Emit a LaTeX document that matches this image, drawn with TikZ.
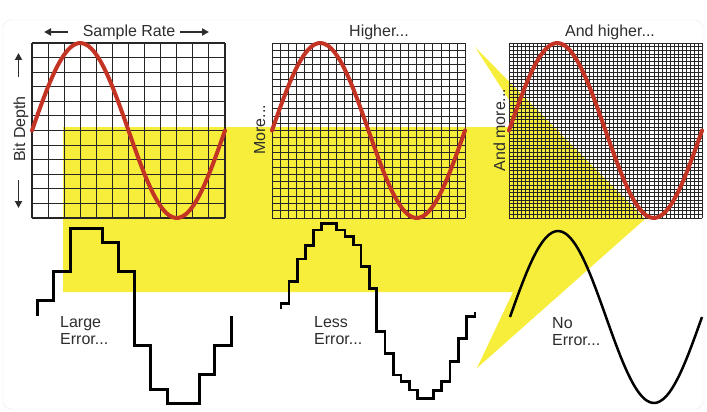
\documentclass[tikz,border=0pt]{standalone}
\usepackage{fontspec}
\setmainfont{Liberation Sans}
\usetikzlibrary{arrows.meta}
\definecolor{beam}{RGB}{246,238,58}
\definecolor{wave}{RGB}{196,52,36}
\definecolor{labelgray}{RGB}{45,45,45}
\begin{document}
\begin{tikzpicture}[x=1pt,y=-1pt,
	every node/.style={text=labelgray,font=\fontsize{16}{17}\selectfont,inner sep=0},
	gridline/.style={line width=#1,black!85},
	redwave/.style={wave,line width=4pt,line cap=round},
	stairs/.style={black,line width=#1,line join=miter},
	title/.style={anchor=base},
	side/.style={anchor=base,rotate=90},
	errtext/.style={align=left,anchor=north west},
	lblarrow/.style={labelgray,line width=1.8pt,-{Triangle[length=7pt,width=7pt]}}]
\fill[white] (0,0) rectangle (707,412);
\draw[black!8,rounded corners=8pt] (3,20) rectangle (703,409);
% yellow beam
\fill[beam] (63,127) -- (509,127) -- (509,100) -- (475,47) -- (645,219)
	-- (477,368) -- (513,292) -- (63,292) -- cycle;
% the three grids
\foreach \gx/\n/\lw in {32/12/1.1pt,272/24/0.75pt,509/48/0.5pt}{
	\foreach \i in {0,...,\n}{
		\draw[gridline=\lw] ({\gx+\i*193/\n},43) -- ({\gx+\i*193/\n},218);
		\draw[gridline=\lw] (\gx,{43+\i*175/\n}) -- ({\gx+193},{43+\i*175/\n});
	}
}
% analog waves
\foreach \gx in {32,272,509}
	\draw[redwave] plot[domain=0:193,samples=60,smooth] ({\gx+\x},{130.5-87.5*sin(\x/193*360)});
% sampled waves
\draw[stairs=3pt] (37,316) |- (53,300.7) |- (70,271.7) |- (102,228.3) |- (118,242.3)
	|- (134,271.7) |- (150,345) |- (167,389.3) |- (199,403.3) |- (214,374)
	|- (231,345) -- (231,316);
\draw[stairs=2.6pt] (281,309.3) |- (289,303.3) |- (297.3,281.7) |- (305.7,259)
	|- (313.3,245.7) |- (321.7,230) |- (336.7,223.3) |- (345,230) |- (353.3,236.7)
	|- (361,245) |- (369.3,266.7) |- (376.7,288.3) |- (385,331.7) |- (393.3,353.3)
	|- (401,375) |- (409.3,381.7) |- (417.7,390) |- (433.3,398.3) |- (441.7,390.7)
	|- (450,381.7) |- (458.3,361.7) |- (466.7,338.3) |- (475,316.7) -- (475,311.7);
\draw[black,line width=2.5pt] plot[domain=0:192,samples=60,smooth] ({510+\x},{317-86*sin(\x/192*360)});
% labels
\node[title] (srate) at (129,37) {Sample Rate};
\node[title] (higher) at (379,37) {Higher...};
\node[title] (andhigher) at (610,37) {And higher...};
\node[side] (bitdepth) at (25,129) {Bit Depth};
\node[side] (more) at (265,130) {More...};
\node[side] (andmore) at (505,130) {And more...};
\node[errtext] (large) at (60,316) {Large\\Error...};
\node[errtext] (less) at (314,316) {Less\\Error...};
\node[errtext] (noerr) at (552,317) {No\\Error...};
% axis arrows
\coordinate (srleft) at (44,32);
\coordinate (srright) at (209,32);
\coordinate (bdup) at (18.5,53);
\coordinate (bddown) at (18.5,208);
\draw[lblarrow] (68,32) -- (srleft);
\draw[lblarrow] (180,32) -- (srright);
\draw[lblarrow] (18.5,77) -- (bdup);
\draw[lblarrow] (18.5,180) -- (bddown);
\end{tikzpicture}
\end{document}
